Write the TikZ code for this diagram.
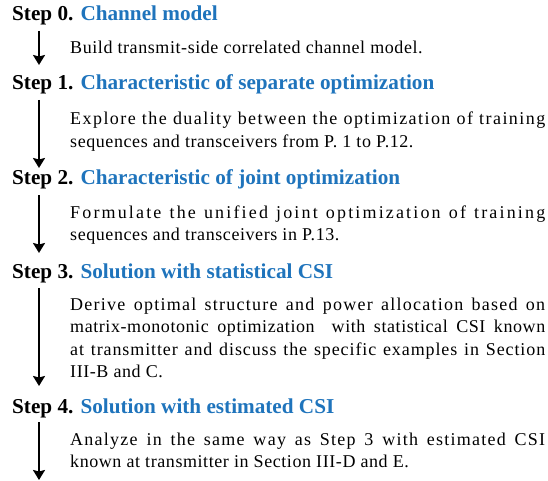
\documentclass[tikz,border=0pt]{standalone}
\usepackage{fontspec}
\setmainfont{Liberation Serif}
\newfontfamily\bodyfont[LetterSpace=3.2]{Liberation Serif}
\newcommand{\trk}[2]{{\addfontfeature{LetterSpace=#1}#2}}
\usetikzlibrary{arrows.meta}
\definecolor{stepblue}{HTML}{1F74BC}
\begin{document}
\begin{tikzpicture}[x=1pt,y=1pt,
  head/.style={anchor=base west,inner sep=0pt,font=\fontsize{21.2}{24}\selectfont\bfseries},
  body/.style={anchor=base west,inner sep=0pt,text width=475pt,align=justify,
    font=\bodyfont\fontsize{18}{22.5}\selectfont},
  flow/.style={line width=2pt,-{Stealth[length=10pt,width=12pt,inset=1.5pt]}}]
\useasboundingbox (0,0) rectangle (548,-481);
\node[head] (h0) at (12,-21) {Step 0. \textcolor{stepblue}{Channel model}};
\node[head] (h1) at (12,-90) {Step 1. \textcolor{stepblue}{Characteristic of separate optimization}};
\node[head] (h2) at (12,-184) {Step 2. \textcolor{stepblue}{Characteristic of joint optimization}};
\node[head] (h3) at (12,-278) {Step 3. \textcolor{stepblue}{Solution with statistical CSI}};
\node[head] (h4) at (12,-413) {Step 4. \textcolor{stepblue}{Solution with estimated CSI}};
\node[body] (b0) at (70,-54) {Build transmit-side correlated channel model.};
\node[body] (b1) at (70,-125) {\trk{8}{Explore the duality between the optimization of training}\linebreak sequences and transceivers from P. 1 to P.12.};
\node[body] (b2) at (70,-218) {\trk{12}{Formulate the unified joint optimization of training}\linebreak sequences and transceivers in P.13.};
\node[body] (b3) at (70,-310) {\trk{7}{Derive optimal structure and power allocation based on}\linebreak matrix-monotonic optimization\ \ with statistical CSI known\linebreak \trk{5}{at transmitter and discuss the specific examples in Section}\linebreak III-B and C.};
\node[body] (b4) at (70,-445) {\trk{7}{Analyze in the same way as Step 3 with estimated CSI}\linebreak known at transmitter in Section III-D and E.};
\coordinate (a0s) at (39,-31); \coordinate (a0e) at (39,-65);
\coordinate (a1s) at (39,-100); \coordinate (a1e) at (39,-168);
\coordinate (a2s) at (39,-195); \coordinate (a2e) at (39,-253);
\coordinate (a3s) at (39,-288); \coordinate (a3e) at (39,-386);
\coordinate (a4s) at (39,-422); \coordinate (a4e) at (39,-480);
\draw[flow] (a0s) -- (a0e);
\draw[flow] (a1s) -- (a1e);
\draw[flow] (a2s) -- (a2e);
\draw[flow] (a3s) -- (a3e);
\draw[flow] (a4s) -- (a4e);
\end{tikzpicture}
\end{document}
